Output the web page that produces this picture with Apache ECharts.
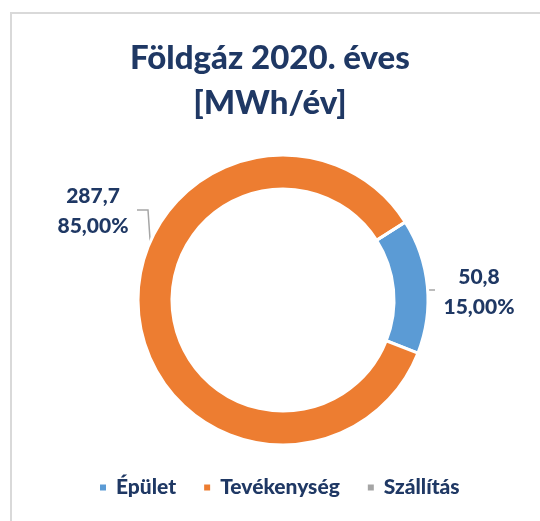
<!DOCTYPE html>
<html>
<head>
<meta charset="utf-8">
<script src="https://cdn.jsdelivr.net/npm/echarts@6/dist/echarts.min.js"></script>
<style>
  html, body { margin: 0; padding: 0; background: #fff; overflow: hidden; }
  #wrap { position: relative; width: 540px; height: 521px; overflow: hidden; }
  #frame { position: absolute; left: 10px; top: 12px; width: 700px; height: 700px; border: 2px solid #d9d9d9; box-sizing: border-box; }
  #chart { position: absolute; left: 0; top: 0; width: 540px; height: 521px; }
</style>
</head>
<body>
<div id="wrap">
  <div id="frame"></div>
  <div id="chart"></div>
</div>
<script>
const categories = ['Épület', 'Tevékenység', 'Szállítás']
const values = [50.8, 287.7, 0]
const percentLabels = ['15,00%', '85,00%', '0,00%']
const colors = ['#5B9BD5', '#ED7D31', '#A5A5A5']

const textColor = '#1F3864'
const font = 'Lato, "Open Sans", sans-serif'

// label placement (Excel moved the labels by hand)
const labelPos = [
  { x: 479, y: 292, line: [[411, 290], [423, 290], [435, 290]] },
  { x: 93, y: 211, line: [[155, 312], [148, 210], [137, 210]] }
]

let chart = echarts.init(document.getElementById('chart'))

const option = {
  animation: false,
  title: {
    text: 'Földgáz 2020. éves\n[MWh/év]',
    left: 'center',
    top: 31,
    textStyle: {
      fontFamily: font,
      fontSize: 33,
      fontWeight: 900,
      color: textColor,
      lineHeight: 45
    }
  },
  legend: {
    left: 93,
    top: 472,
    icon: 'rect',
    itemWidth: 8,
    itemHeight: 8,
    itemGap: 26,
    data: categories,
    textStyle: {
      fontFamily: font,
      fontSize: 21,
      fontWeight: 900,
      color: textColor,
      padding: [0, 0, 0, 4]
    }
  },
  series: [
    {
      type: 'pie',
      center: [283, 300],
      radius: [111, 145],
      startAngle: 32.5,
      avoidLabelOverlap: false,
      silent: true,
      itemStyle: {
        borderColor: '#fff',
        borderWidth: 3
      },
      label: {
        show: true,
        position: 'outside',
        fontFamily: font,
        fontSize: 21,
        fontWeight: 900,
        color: textColor,
        lineHeight: 30,
        align: 'center',
        formatter(params) {
          return String(params.value).replace('.', ',') + '\n' + percentLabels[params.dataIndex]
        }
      },
      labelLine: {
        show: true,
        lineStyle: { color: '#A6A6A6', width: 1.5 }
      },
      labelLayout(params) {
        const p = labelPos[params.dataIndex]
        if (!p) return {}
        return {
          x: p.x,
          y: p.y,
          align: 'center',
          verticalAlign: 'middle',
          labelLinePoints: p.line
        }
      },
      data: categories.map((name, i) => ({
        name: name,
        value: values[i],
        itemStyle: { color: colors[i] },
        label: { show: values[i] > 0 },
        labelLine: { show: values[i] > 0 }
      }))
    }
  ]
}

chart.setOption(option)
</script>
</body>
</html>
